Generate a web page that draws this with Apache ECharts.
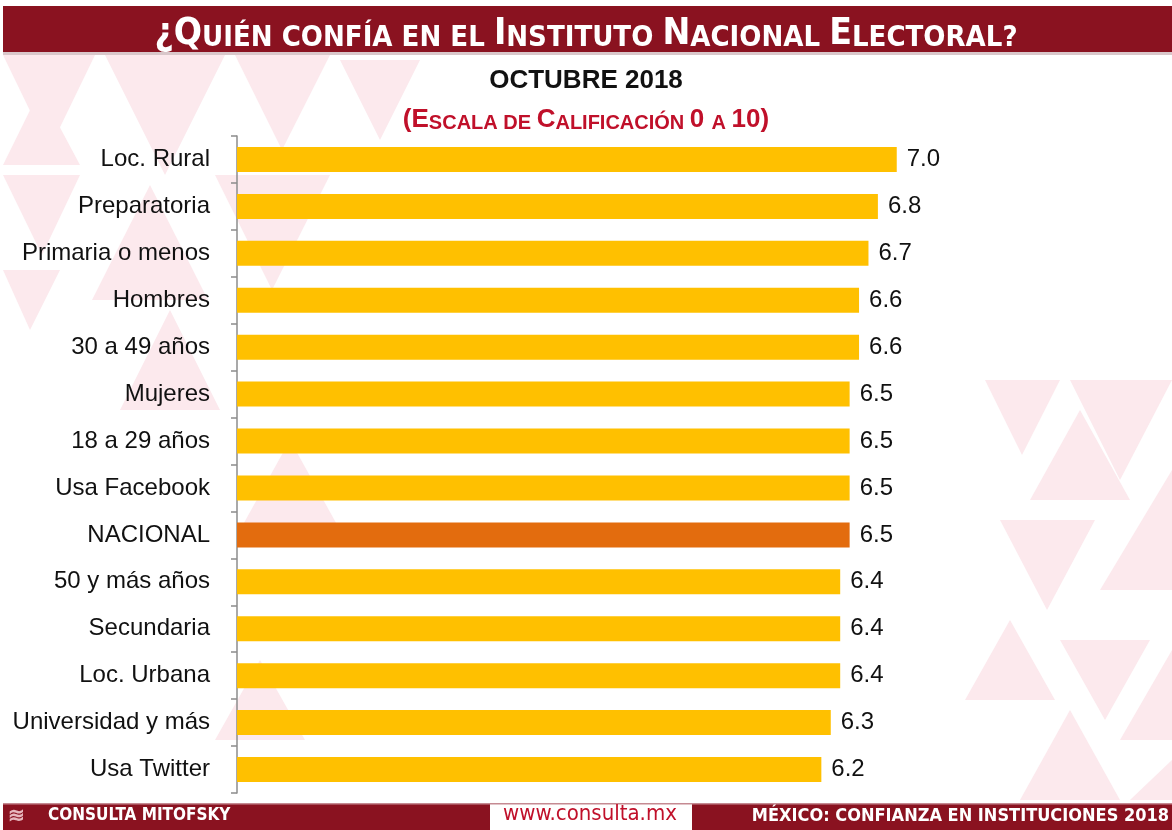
<!DOCTYPE html>
<html>
<head>
<meta charset="utf-8">
<script src="https://cdn.jsdelivr.net/npm/echarts@6/dist/echarts.min.js"></script>
<style>
  html, body { margin: 0; padding: 0; background: #fff; }
  #chart { width: 1172px; height: 830px; }
</style>
</head>
<body>
<div id="chart"></div>
<script>
// categories top to bottom, as in the picture
const categories = [
    'Loc. Rural', 'Preparatoria', 'Primaria o menos', 'Hombres', '30 a 49 años',
    'Mujeres', '18 a 29 años', 'Usa Facebook', 'NACIONAL', '50 y más años',
    'Secundaria', 'Loc. Urbana', 'Universidad y más', 'Usa Twitter'
];
const scores = [7.0, 6.8, 6.7, 6.6, 6.6, 6.5, 6.5, 6.5, 6.5, 6.4, 6.4, 6.4, 6.3, 6.2];
const highlighted = 'NACIONAL';

const RED = '#8A1220';
const PINK = '#FCE9ED';
const FONT = '"Liberation Sans", Arial, sans-serif';
const NARROW = '"DejaVu Sans Condensed", "Liberation Sans", sans-serif';

// faint triangle pattern behind the chart
function tri(points) {
    return { type: 'polygon', z: -10, silent: true, shape: { points: points }, style: { fill: PINK } };
}
const pattern = [
    tri([[3, 55], [95, 55], [49, 150]]),
    tri([[105, 55], [225, 55], [165, 175]]),
    tri([[235, 55], [330, 55], [282, 150]]),
    tri([[3, 165], [40, 90], [80, 165]]),
    tri([[92, 300], [150, 185], [208, 300]]),
    tri([[3, 175], [80, 175], [42, 255]]),
    tri([[215, 175], [330, 175], [272, 290]]),
    tri([[3, 270], [60, 270], [30, 330]]),
    tri([[340, 60], [420, 60], [380, 140]]),
    tri([[120, 410], [170, 310], [220, 410]]),
    tri([[985, 380], [1060, 380], [1022, 455]]),
    tri([[1070, 380], [1172, 380], [1120, 480]]),
    tri([[1030, 500], [1080, 410], [1130, 500]]),
    tri([[1100, 590], [1172, 470], [1172, 590]]),
    tri([[1000, 520], [1095, 520], [1047, 610]]),
    tri([[1060, 640], [1150, 640], [1105, 720]]),
    tri([[965, 700], [1010, 620], [1055, 700]]),
    tri([[1120, 740], [1172, 650], [1172, 740]]),
    tri([[1020, 800], [1070, 710], [1120, 800]]),
    tri([[1130, 800], [1172, 760], [1172, 800]]),
    tri([[240, 530], [290, 440], [340, 530]]),
    tri([[215, 740], [260, 660], [305, 740]])
];

const chart = echarts.init(document.getElementById('chart'));

const option = {
    backgroundColor: '#ffffff',
    animation: false,
    title: [
        {
            text: '{b|¿Q}{s|UIÉN CONFÍA EN EL }{b|I}{s|NSTITUTO }{b|N}{s|ACIONAL }{b|E}{s|LECTORAL?}',
            left: 'center',
            top: 8,
            textStyle: {
                rich: {
                    b: { color: '#fff', fontFamily: NARROW, fontWeight: 'bold', fontSize: 37, lineHeight: 40, verticalAlign: 'bottom' },
                    s: { color: '#fff', fontFamily: NARROW, fontWeight: 'bold', fontSize: 29, lineHeight: 40, verticalAlign: 'bottom' }
                }
            }
        },
        {
            text: 'OCTUBRE 2018',
            left: 'center',
            top: 63,
            textStyle: { color: '#111', fontFamily: FONT, fontWeight: 'bold', fontSize: 26 }
        },
        {
            text: '{p|(}{b|E}{s|SCALA DE }{b|C}{s|ALIFICACIÓN }{b|0 }{s|A }{b|10}{p|)}',
            left: 'center',
            top: 96,
            textStyle: {
                rich: {
                    p: { color: '#C0102A', fontFamily: FONT, fontWeight: 'bold', fontSize: 26, lineHeight: 32, verticalAlign: 'bottom' },
                    b: { color: '#C0102A', fontFamily: FONT, fontWeight: 'bold', fontSize: 26, lineHeight: 32, verticalAlign: 'bottom' },
                    s: { color: '#C0102A', fontFamily: FONT, fontWeight: 'bold', fontSize: 20, lineHeight: 32, verticalAlign: 'bottom' }
                }
            }
        }
    ],
    grid: {
        left: 237,
        right: 181,
        top: 136,
        bottom: 37,
        containLabel: false
    },
    xAxis: {
        type: 'value',
        min: 0,
        max: 8,
        show: false
    },
    yAxis: {
        type: 'category',
        data: categories,
        inverse: true,
        axisLine: { show: true, lineStyle: { color: '#8c8c8c', width: 1.5 } },
        axisTick: { show: true, length: 6, lineStyle: { color: '#8c8c8c', width: 1.5 } },
        axisLabel: {
            color: '#111',
            fontFamily: FONT,
            fontSize: 24,
            margin: 27
        },
        splitLine: { show: false }
    },
    series: [
        {
            type: 'bar',
            barWidth: 25,
            data: scores.map((v, i) => ({
                value: v,
                itemStyle: { color: categories[i] === highlighted ? '#E36C0E' : '#FFC000' }
            })),
            label: {
                show: true,
                position: 'right',
                distance: 10,
                color: '#111',
                fontFamily: FONT,
                fontSize: 24,
                formatter: p => p.value.toFixed(1)
            }
        }
    ],
    graphic: pattern.concat([
        // top banner
        { type: 'rect', z: -5, silent: true, shape: { x: 3, y: 6, width: 1169, height: 46 }, style: { fill: RED } },
        { type: 'rect', z: -4, silent: true, shape: { x: 3, y: 52, width: 1169, height: 3 }, style: { fill: '#d9c7ca' } },
        // footer
        { type: 'rect', z: 5, silent: true, shape: { x: 3, y: 803, width: 487, height: 27 }, style: { fill: RED } },
        { type: 'rect', z: 5, silent: true, shape: { x: 692, y: 803, width: 480, height: 27 }, style: { fill: RED } },
        { type: 'rect', z: 5, silent: true, shape: { x: 3, y: 803, width: 1169, height: 1.5 }, style: { fill: '#c58a92' } },
        {
            type: 'text', z: 6, silent: true, left: 8, top: 806,
            style: { text: '≋', fill: '#e8b8be', font: 'bold 20px ' + FONT }
        },
        {
            type: 'text', z: 6, silent: true, left: 48, top: 807,
            style: { text: 'CONSULTA MITOFSKY', fill: '#fff', font: 'bold 17px ' + NARROW }
        },
        {
            type: 'text', z: 6, silent: true, left: 503, top: 803,
            style: { text: 'www.consulta.mx', fill: '#C0102A', font: '22px ' + NARROW }
        },
        {
            type: 'text', z: 6, silent: true, right: 3, top: 807,
            style: { text: 'MÉXICO: CONFIANZA EN INSTITUCIONES 2018', fill: '#fff', font: 'bold 18px ' + NARROW }
        }
    ])
};

chart.setOption(option);
</script>
</body>
</html>
